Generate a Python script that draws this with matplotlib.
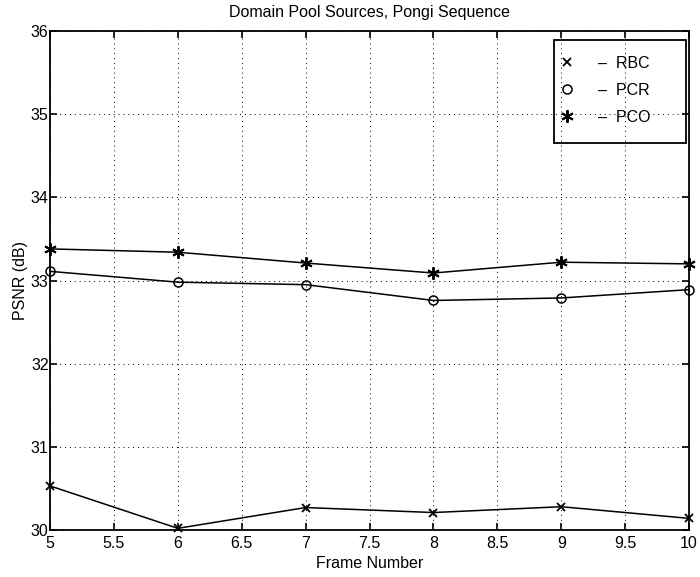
import matplotlib.pyplot as plt
from matplotlib.lines import Line2D
from matplotlib.patches import Rectangle

plt.rcParams['font.family'] = ['Liberation Sans', 'DejaVu Sans']

frames = [5, 6, 7, 8, 9, 10]
rbc = [30.53, 30.02, 30.27, 30.21, 30.28, 30.14]
pcr = [33.11, 32.98, 32.95, 32.76, 32.79, 32.89]
pco = [33.38, 33.34, 33.21, 33.09, 33.22, 33.20]
labels = ['RBC', 'PCR', 'PCO']
x_ticks = [5, 5.5, 6, 6.5, 7, 7.5, 8, 8.5, 9, 9.5, 10]
y_ticks = [30, 31, 32, 33, 34, 35, 36]

star = (6, 2, 0)  # asterisk like the old MATLAB '*'
styles = [
    dict(marker='x', ms=6, mew=1.3),
    dict(marker='o', ms=6.5, mfc='none', mew=1.1),
    dict(marker=star, ms=9, mew=1.4),
]

fig = plt.figure(figsize=(7, 5.77), dpi=100)
ax = fig.add_axes([50 / 700, 1 - 530 / 577, 639 / 700, 499 / 577])

for ys, st in zip([rbc, pcr, pco], styles):
    ax.plot(frames, ys, color='black', lw=1.1, clip_on=False, **st)

ax.set_xlim(5, 10)
ax.set_ylim(30, 36)
ax.set_xticks(x_ticks)
ax.set_xticklabels([f'{t:g}' for t in x_ticks])
ax.set_yticks(y_ticks)
ax.tick_params(direction='in', top=True, right=True, labelsize=11.5, length=5,
               width=1.2)
ax.tick_params(axis='x', pad=4)
ax.tick_params(axis='y', pad=1)
ax.grid(True, linestyle=(0, (1, 4)), color='black', linewidth=0.7)
for s in ax.spines.values():
    s.set_linewidth(1.3)

ax.set_title('Domain Pool Sources, Pongi Sequence', fontsize=11.5, pad=10)
ax.set_xlabel('Frame Number', fontsize=11.5, labelpad=4)
ax.set_ylabel('PSNR (dB)', fontsize=11.5, labelpad=2)

# legend: old matlab style box, drawn frame + frameless legend inside
handles = [Line2D([], [], color='black', ls='none', **st) for st in styles]
ax.legend(handles, ['–  ' + l for l in labels], loc='center left',
          bbox_to_anchor=(0.797, 0.881), borderaxespad=0, borderpad=0,
          fontsize=11.5, frameon=False, handlelength=1.0, handletextpad=1.4,
          labelspacing=0.75)
ax.add_patch(Rectangle((0.789, 0.776), 0.206, 0.206, transform=ax.transAxes,
                       facecolor='none', edgecolor='black', lw=1.3, zorder=5))

fig.savefig('out.png', dpi=100)
